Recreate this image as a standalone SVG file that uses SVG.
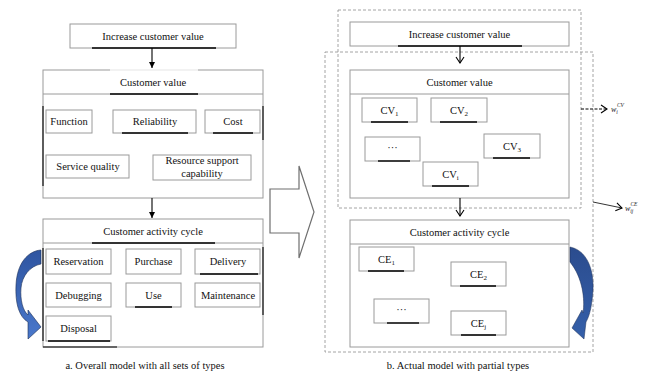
<svg xmlns="http://www.w3.org/2000/svg" width="653" height="373" viewBox="0 0 653 373">
  <style>
    .box { fill: #ffffff; stroke: #9a9a9a; stroke-width: 1; }
    .ul { stroke: #000000; stroke-width: 1.4; fill: none; }
    .edge { stroke: #000000; stroke-width: 1.1; fill: none; }
    .dash { fill: none; stroke: #9a9a9a; stroke-width: 0.9; stroke-dasharray: 3 2; }
    text { font-family: "Liberation Serif", "DejaVu Serif", "Times New Roman", serif; }
    .t { font-size: 10.5px; fill: #111111; text-anchor: middle; }
    .cap { font-size: 10.5px; fill: #111111; text-anchor: middle; }
    .w { font-style: italic; fill: #222222; }
    .conn { stroke: #000000; stroke-width: 1.1; fill: none; }
  </style>
  <defs>
    <marker id="fillHead" markerWidth="8" markerHeight="8" refX="6" refY="4" orient="auto" markerUnits="userSpaceOnUse">
      <path d="M0,1 L6,4 L0,7 Z" fill="#000000"/>
    </marker>
    <marker id="openHead" markerWidth="10" markerHeight="10" refX="7" refY="5" orient="auto" markerUnits="userSpaceOnUse">
      <path d="M1,1 L7,5 L1,9" fill="none" stroke="#000000" stroke-width="1.1"/>
    </marker>
    <linearGradient id="blueL" x1="0" y1="0" x2="0" y2="1">
      <stop offset="0" stop-color="#2f55a0"/>
      <stop offset="1" stop-color="#4a78cc"/>
    </linearGradient>
    <linearGradient id="blueR" x1="0" y1="0" x2="0" y2="1">
      <stop offset="0" stop-color="#2b4c8e"/>
      <stop offset="1" stop-color="#3560aa"/>
    </linearGradient>
  </defs>

  <rect width="653" height="373" fill="#ffffff"/>

  <!-- ===== Left model: all sets of types ===== -->
  <g id="a-increase">
    <rect class="box" x="70" y="24" width="166" height="24"/>
    <text class="t" x="153" y="40">Increase customer value</text>
    <line class="ul" x1="92" y1="48" x2="216" y2="48"/>
  </g>

  <g id="a-customer-value">
    <rect class="box" x="43" y="70" width="220" height="128"/>
    <line x1="110" y1="70" x2="198" y2="70" stroke="#ffffff" stroke-width="1.5"/>
    <line class="box" x1="43" y1="94" x2="263" y2="94"/>
    <text class="t" x="153" y="86">Customer value</text>
    <line class="ul" x1="110" y1="94" x2="198" y2="94"/>
    <line class="edge" x1="43" y1="106" x2="43" y2="186"/>
    <line class="edge" x1="263" y1="106" x2="263" y2="140"/>
  </g>
  <g id="a-function">
    <rect class="box" x="46" y="110" width="46" height="23"/>
    <text class="t" x="69" y="125">Function</text>
  </g>
  <g id="a-reliability">
    <rect class="box" x="113" y="110" width="83" height="23"/>
    <text class="t" x="155" y="125">Reliability</text>
    <line class="ul" x1="122" y1="133" x2="188" y2="133"/>
  </g>
  <g id="a-cost">
    <rect class="box" x="205" y="110" width="55" height="23"/>
    <text class="t" x="233" y="125">Cost</text>
    <line class="ul" x1="213" y1="133" x2="253" y2="133"/>
  </g>
  <g id="a-service-quality">
    <rect class="box" x="46" y="155" width="83" height="23"/>
    <text class="t" x="88" y="170">Service quality</text>
  </g>
  <g id="a-resource-support">
    <rect class="box" x="153" y="155" width="98" height="25"/>
    <text class="t" x="202" y="164">Resource support</text>
    <text class="t" x="202" y="177">capability</text>
  </g>

  <g id="a-activity-cycle">
    <rect class="box" x="43" y="219" width="220" height="128"/>
    <line class="box" x1="43" y1="243" x2="263" y2="243"/>
    <text class="t" x="153" y="235">Customer activity cycle</text>
    <line class="ul" x1="92" y1="243" x2="215" y2="243"/>
    <line class="edge" x1="43" y1="248" x2="43" y2="341"/>
    <line class="edge" x1="263" y1="247" x2="263" y2="315"/>
    <line class="edge" x1="43" y1="347" x2="117" y2="347"/>
  </g>
  <g id="a-reservation">
    <rect class="box" x="46" y="249" width="65" height="25"/>
    <text class="t" x="78.5" y="265">Reservation</text>
  </g>
  <g id="a-purchase">
    <rect class="box" x="126" y="249" width="55" height="25"/>
    <text class="t" x="153.5" y="265">Purchase</text>
  </g>
  <g id="a-delivery">
    <rect class="box" x="195" y="249" width="65" height="25"/>
    <text class="t" x="228" y="265">Delivery</text>
    <line class="ul" x1="200" y1="274" x2="258" y2="274"/>
  </g>
  <g id="a-debugging">
    <rect class="box" x="46" y="283" width="65" height="24"/>
    <text class="t" x="78.5" y="299">Debugging</text>
  </g>
  <g id="a-use">
    <rect class="box" x="126" y="283" width="55" height="24"/>
    <text class="t" x="153.5" y="299">Use</text>
    <line class="ul" x1="135" y1="307" x2="172" y2="307"/>
  </g>
  <g id="a-maintenance">
    <rect class="box" x="195" y="283" width="65" height="24"/>
    <text class="t" x="228" y="299">Maintenance</text>
  </g>
  <g id="a-disposal">
    <rect class="box" x="46" y="316" width="65" height="25"/>
    <text class="t" x="78.5" y="332">Disposal</text>
    <line class="ul" x1="48" y1="341" x2="110" y2="341"/>
  </g>

  <!-- curved cycle arrow on the left model -->
  <g id="a-cycle-arrow">
    <path d="M41,250 C28,251 17,263 16,285 C15,303 19,317 28,322 L28,339 L41,327 L28,310 L28,315 C23,311 20,300 21,288 C22,276 30,266 41,264 Z"
          fill="url(#blueL)" stroke="#1d2f55" stroke-width="0.6"/>
  </g>

  <!-- hollow transition arrow -->
  <g id="transition-arrow">
    <polygon points="270,189 299,189 299,166 314,212 299,258 299,233 270,233"
             fill="#ffffff" stroke="#6f6f6f" stroke-width="1.2"/>
  </g>

  <!-- ===== Right model: partial types ===== -->
  <g id="b-group-cv">
    <rect class="dash" x="338" y="10" width="243" height="198"/>
  </g>
  <g id="b-group-ce">
    <rect class="dash" x="325" y="52" width="268" height="300"/>
  </g>

  <g id="b-increase">
    <rect class="box" x="350" y="22" width="219" height="24"/>
    <text class="t" x="459.5" y="38">Increase customer value</text>
    <line class="ul" x1="398" y1="46" x2="522" y2="46"/>
  </g>

  <g id="b-customer-value">
    <rect class="box" x="350" y="70" width="219" height="128"/>
    <line class="box" x1="350" y1="94" x2="569" y2="94"/>
    <text class="t" x="459.5" y="86">Customer value</text>
  </g>
  <g id="b-cv1">
    <rect class="box" x="362" y="98" width="55" height="24"/>
    <text class="t" x="389.5" y="114">CV<tspan font-size="7" dy="2">1</tspan></text>
    <line class="ul" x1="371" y1="122" x2="408" y2="122"/>
  </g>
  <g id="b-cv2">
    <rect class="box" x="431" y="98" width="56" height="24"/>
    <text class="t" x="459" y="114">CV<tspan font-size="7" dy="2">2</tspan></text>
    <line class="ul" x1="440" y1="122" x2="477" y2="122"/>
  </g>
  <g id="b-cv-more">
    <rect class="box" x="365" y="137" width="55" height="24"/>
    <text class="t" x="392.5" y="151">···</text>
    <line class="ul" x1="378" y1="161" x2="410" y2="161"/>
  </g>
  <g id="b-cv3">
    <rect class="box" x="484" y="134" width="56" height="24"/>
    <text class="t" x="512" y="150">CV<tspan font-size="7" dy="2">3</tspan></text>
    <line class="ul" x1="493" y1="158" x2="530" y2="158"/>
  </g>
  <g id="b-cvi">
    <rect class="box" x="423" y="162" width="55" height="24"/>
    <text class="t" x="450.5" y="178">CV<tspan font-size="7" dy="2">i</tspan></text>
    <line class="ul" x1="432" y1="186" x2="469" y2="186"/>
  </g>

  <g id="b-activity-cycle">
    <rect class="box" x="350" y="220" width="219" height="127"/>
    <line class="box" x1="350" y1="244" x2="569" y2="244"/>
    <text class="t" x="459.5" y="236">Customer activity cycle</text>
  </g>
  <g id="b-ce1">
    <rect class="box" x="359" y="247" width="55" height="24"/>
    <text class="t" x="386.5" y="263">CE<tspan font-size="7" dy="2">1</tspan></text>
    <line class="ul" x1="368" y1="271" x2="404" y2="271"/>
  </g>
  <g id="b-ce2">
    <rect class="box" x="451" y="262" width="55" height="24"/>
    <text class="t" x="478.5" y="278">CE<tspan font-size="7" dy="2">2</tspan></text>
    <line class="ul" x1="460" y1="286" x2="496" y2="286" stroke-width="2"/>
  </g>
  <g id="b-ce-more">
    <rect class="box" x="374" y="299" width="55" height="24"/>
    <text class="t" x="401.5" y="313">···</text>
    <line class="ul" x1="387" y1="323" x2="419" y2="323"/>
  </g>
  <g id="b-cej">
    <rect class="box" x="451" y="311" width="55" height="24"/>
    <text class="t" x="478.5" y="327">CE<tspan font-size="7" dy="2">j</tspan></text>
    <line class="ul" x1="461" y1="335" x2="496" y2="335"/>
  </g>

  <!-- curved cycle arrow on the right model -->
  <g id="b-cycle-arrow">
    <path d="M570,247 C586,250 594,268 593,290 C592,305 590,315 586,322 L584,339 L572,328 L582,310 L583,313 C585,300 583,278 570,262 Z"
          fill="url(#blueR)" stroke="#1d2f55" stroke-width="0.5"/>
  </g>

  <!-- weight labels -->
  <g id="w-cv">
    <text class="w" x="611" y="112" font-size="8">w<tspan font-size="5.5" dy="2">i</tspan><tspan font-size="5.5" dx="-1" dy="-7">CV</tspan></text>
  </g>
  <g id="w-ce">
    <text class="w" x="625" y="211" font-size="8">w<tspan font-size="5.5" dy="2">ij</tspan><tspan font-size="5.5" dx="-3" dy="-7">CE</tspan></text>
  </g>

  <!-- connectors -->
  <g id="connectors">
    <line class="conn" x1="152" y1="48" x2="152" y2="68" marker-end="url(#fillHead)"/>
    <line class="conn" x1="152" y1="198" x2="152" y2="218" marker-end="url(#fillHead)"/>
    <line class="conn" x1="460" y1="46" x2="460" y2="63" marker-end="url(#openHead)"/>
    <line class="conn" x1="460" y1="198" x2="460" y2="216" marker-end="url(#openHead)"/>
    <line x1="581" y1="109" x2="607" y2="109" stroke="#000000" stroke-width="1" stroke-dasharray="3 1.5" marker-end="url(#openHead)"/>
    <line x1="593" y1="202" x2="622" y2="208" stroke="#000000" stroke-width="0.8" marker-end="url(#openHead)"/>
  </g>

  <!-- captions -->
  <text class="cap" x="145" y="369">a. Overall model with all sets of types</text>
  <text class="cap" x="458" y="369">b. Actual model with partial types</text>
</svg>
